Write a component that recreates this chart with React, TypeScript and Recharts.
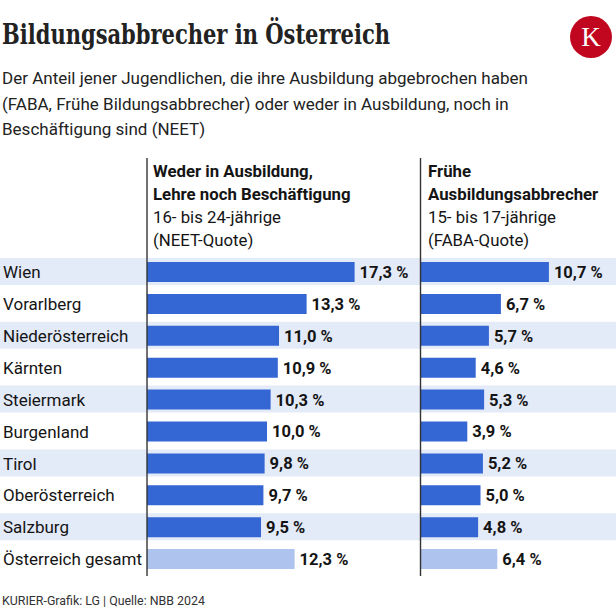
import React from 'react';
import { BarChart, Bar, XAxis, YAxis, Cell, LabelList, ReferenceLine } from 'recharts';

if (typeof document !== 'undefined') {
  document.body.style.margin = '0';
}

const regions = ['Wien', 'Vorarlberg', 'Niederösterreich', 'Kärnten', 'Steiermark', 'Burgenland', 'Tirol', 'Oberösterreich', 'Salzburg', 'Österreich gesamt'];
const neetValues = [17.3, 13.3, 11.0, 10.9, 10.3, 10.0, 9.8, 9.7, 9.5, 12.3];
const fabaValues = [10.7, 6.7, 5.7, 4.6, 5.3, 3.9, 5.2, 5.0, 4.8, 6.4];
const shadedRows = [1, 0, 1, 0, 1, 0, 1, 0, 1, 0];
const totalRow = 'Österreich gesamt';

const titleText = 'Bildungsabbrecher in Österreich';
const subtitleLines = [
  'Der Anteil jener Jugendlichen, die ihre Ausbildung abgebrochen haben',
  '(FABA, Frühe Bildungsabbrecher) oder weder in Ausbildung, noch in',
  'Beschäftigung sind (NEET)',
];
const neetHeader = ['Weder in Ausbildung,', 'Lehre noch Beschäftigung', '16- bis 24-jährige', '(NEET-Quote)'];
const fabaHeader = ['Frühe', 'Ausbildungsabbrecher', '15- bis 17-jährige', '(FABA-Quote)'];
const footerText = 'KURIER-Grafik: LG | Quelle: NBB 2024';

const data = regions.map((name, i) => ({
  name,
  neet: neetValues[i],
  faba: fabaValues[i],
  band: shadedRows[i],
}));

const BLUE = '#3466d4';
const LIGHT = '#aec3ee';
const BAND = '#e3eaf8';
const FONT = 'Roboto, "Noto Sans", sans-serif';

const fmt = (v: number) => v.toFixed(1).replace('.', ',') + ' %';

const ValueLabel = (p: any) => {
  const x = Number(p.x) + Number(p.width) + 5;
  const y = Number(p.y) + Number(p.height) / 2;
  return (
    <text x={x} y={y} dy="0.36em" fontFamily={FONT} fontWeight={700} fontSize={16.5} fill="#141414">
      {fmt(Number(p.value))}
    </text>
  );
};

const CategoryLabel = (p: any) => {
  const y = Number(p.y) + Number(p.height) / 2;
  return (
    <text x={3} y={y} dy="0.36em" fontFamily={FONT} fontSize={17} fill="#141414" textAnchor="start">
      {p.value}
    </text>
  );
};

const headerBaselines = [177, 200, 223, 246];
const subtitleBaselines = [84, 110, 135];

export default function App() {
  return (
    <div style={{ position: 'relative', width: 616, height: 616, background: '#fff', overflow: 'hidden' }}>
      <div style={{ position: 'absolute', left: 0, top: 0 }}>
        <BarChart
          width={616}
          height={616}
          data={data}
          layout="vertical"
          margin={{ top: 158, right: 0, bottom: 40, left: 0 }}
        >
          <XAxis xAxisId="band" type="number" domain={[0, 1]} hide allowDataOverflow />
          <XAxis xAxisId="neet" type="number" domain={[-12.25, 39.08]} hide allowDataOverflow />
          <XAxis xAxisId="faba" type="number" domain={[-35.04, 16.29]} hide allowDataOverflow />
          <YAxis yAxisId="yBand" type="category" dataKey="name" hide padding={{ top: 98, bottom: 1 }} />
          <YAxis yAxisId="yNeet" type="category" dataKey="name" hide padding={{ top: 98, bottom: 1 }} />
          <YAxis yAxisId="yFaba" type="category" dataKey="name" hide padding={{ top: 98, bottom: 1 }} />
          <Bar dataKey="band" xAxisId="band" yAxisId="yBand" barSize={27} fill={BAND} isAnimationActive={false} />
          <Bar dataKey="neet" xAxisId="neet" yAxisId="yNeet" barSize={20} isAnimationActive={false}>
            {data.map((d) => (
              <Cell key={d.name} fill={d.name === totalRow ? LIGHT : BLUE} />
            ))}
            <LabelList dataKey="neet" content={ValueLabel} />
            <LabelList dataKey="name" content={CategoryLabel} />
          </Bar>
          <Bar dataKey="faba" xAxisId="faba" yAxisId="yFaba" barSize={20} isAnimationActive={false}>
            {data.map((d) => (
              <Cell key={d.name} fill={d.name === totalRow ? LIGHT : BLUE} />
            ))}
            <LabelList dataKey="faba" content={ValueLabel} />
          </Bar>
          <ReferenceLine x={0} xAxisId="neet" yAxisId="yNeet" stroke="#333" strokeWidth={1.4} />
          <ReferenceLine x={0} xAxisId="faba" yAxisId="yFaba" stroke="#333" strokeWidth={1.4} />
        </BarChart>
      </div>
      <svg
        width={616}
        height={616}
        style={{ position: 'absolute', left: 0, top: 0, pointerEvents: 'none' }}
      >
        <text
          x={2}
          y={44}
          fontFamily='"DejaVu Serif", serif'
          fontWeight={700}
          fontSize={27}
          fill="#222"
          textLength={388}
          lengthAdjust="spacingAndGlyphs"
        >
          {titleText}
        </text>
        <circle cx={591} cy={37} r={21} fill="#c0071f" />
        <text x={591} y={46} textAnchor="middle" fontFamily='"Liberation Serif", serif' fontSize={27} fill="#fff">
          K
        </text>
        {subtitleLines.map((t, i) => (
          <text key={t} x={2} y={subtitleBaselines[i]} fontFamily={FONT} fontSize={17} fill="#222">
            {t}
          </text>
        ))}
        {neetHeader.map((t, i) => (
          <text
            key={t}
            x={153}
            y={headerBaselines[i]}
            fontFamily={FONT}
            fontWeight={i < 2 ? 700 : 400}
            fontSize={16.8}
            fill="#141414"
          >
            {t}
          </text>
        ))}
        {fabaHeader.map((t, i) => (
          <text
            key={t}
            x={428}
            y={headerBaselines[i]}
            fontFamily={FONT}
            fontWeight={i < 2 ? 700 : 400}
            fontSize={16.8}
            fill="#141414"
          >
            {t}
          </text>
        ))}
        <text x={2} y={605} fontFamily={FONT} fontSize={12.4} fill="#333">
          {footerText}
        </text>
      </svg>
    </div>
  );
}
